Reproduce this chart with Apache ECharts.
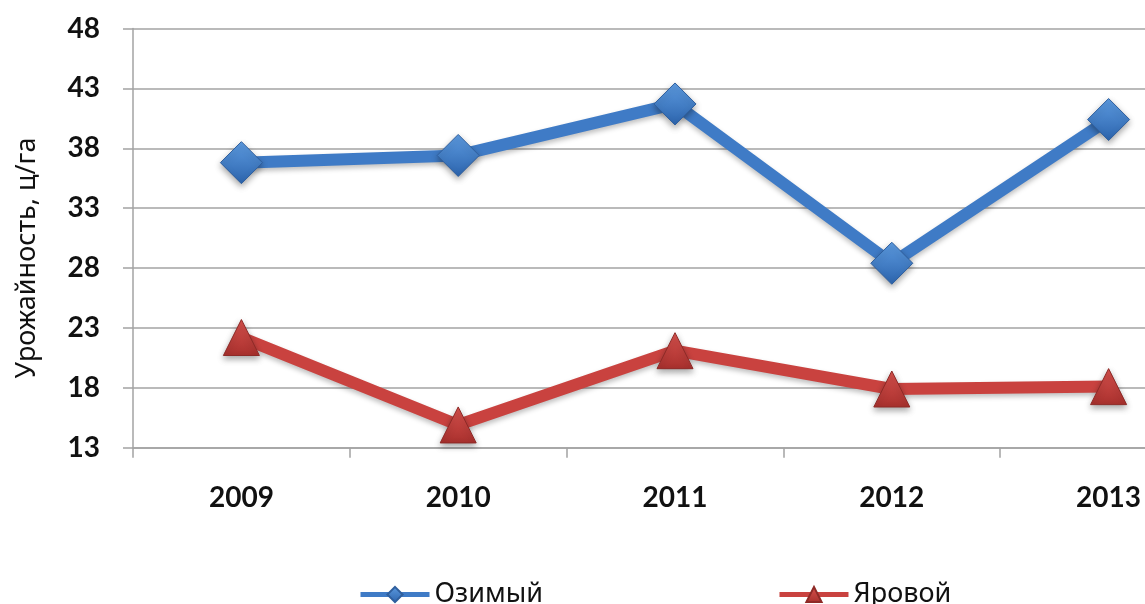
<!DOCTYPE html>
<html>
<head>
<meta charset="utf-8">
<script src="https://cdn.jsdelivr.net/npm/echarts@6/dist/echarts.min.js"></script>
<style>
  html, body { margin: 0; padding: 0; background: #fff; }
  #chart { width: 1145px; height: 604px; }
</style>
</head>
<body>
<div id="chart"></div>
<script>
// Урожайность по годам, ц/га
const years = ['2009', '2010', '2011', '2012', '2013'];
const ozimyi = [36.8, 37.4, 41.7, 28.4, 40.4];
const yarovoi = [22.2, 14.9, 21.1, 17.9, 18.1];
const seriesNames = ['Озимый', 'Яровой'];
const yAxisTitle = 'Урожайность, ц/га';

const numFont = 'Lato, "Open Sans", sans-serif';
const textFont = '"Noto Sans", "Open Sans", sans-serif';
const gridColor = '#a3a3a3';

function grad(top, bottom) {
  return new echarts.graphic.LinearGradient(0, 0, 0, 1, [
    { offset: 0, color: top },
    { offset: 1, color: bottom }
  ]);
}

const chart = echarts.init(document.getElementById('chart'), null, { renderer: 'canvas' });

chart.setOption({
  animation: false,
  backgroundColor: '#ffffff',
  // plot area runs past the right edge of the canvas
  grid: {
    left: 133, top: 28.5, width: 1084, height: 419.2,
    containLabel: false, outerBoundsMode: 'none'
  },
  xAxis: {
    type: 'category',
    data: years,
    boundaryGap: true,
    axisLine: { lineStyle: { color: gridColor, width: 1.5 } },
    axisTick: { show: true, length: 10, lineStyle: { color: gridColor, width: 1.5 } },
    axisLabel: { margin: 36, color: '#111', fontFamily: numFont, fontWeight: 'bold', fontSize: 28 },
    splitLine: { show: false }
  },
  yAxis: {
    type: 'value',
    min: 13,
    max: 48,
    interval: 5,
    axisLine: { show: true, lineStyle: { color: gridColor, width: 1.5 } },
    axisTick: { show: true, length: 10, lineStyle: { color: gridColor, width: 1.5 } },
    axisLabel: { margin: 33, color: '#111', fontFamily: numFont, fontWeight: 'bold', fontSize: 28 },
    splitLine: { show: true, lineStyle: { color: gridColor, width: 1.5 } }
  },
  legend: {
    left: 353,
    top: 576,
    itemWidth: 69,
    itemHeight: 19,
    itemGap: 234,
    textStyle: { fontFamily: textFont, fontSize: 27, color: '#111' },
    lineStyle: { width: 5 },
    data: seriesNames
  },
  graphic: [{
    type: 'text',
    x: 27,
    y: 258,
    rotation: Math.PI / 2,
    style: {
      text: yAxisTitle,
      font: '27px "Noto Sans", "Open Sans", sans-serif',
      fill: '#111',
      align: 'center',
      verticalAlign: 'middle'
    }
  }],
  series: [
    {
      name: seriesNames[0],
      type: 'line',
      data: ozimyi,
      symbol: 'diamond',
      symbolSize: 42,
      z: 3,
      lineStyle: {
        color: '#3f7bc6', width: 12,
        shadowColor: 'rgba(0,0,0,0.25)', shadowBlur: 5, shadowOffsetY: 3
      },
      itemStyle: {
        color: grad('#5d9be0', '#2c64ad'),
        borderColor: '#2f5f9e', borderWidth: 1,
        shadowColor: 'rgba(0,0,0,0.35)', shadowBlur: 6, shadowOffsetY: 3
      }
    },
    {
      name: seriesNames[1],
      type: 'line',
      data: yarovoi,
      symbol: 'triangle',
      symbolSize: 36,
      z: 2,
      lineStyle: {
        color: '#c9423f', width: 12,
        shadowColor: 'rgba(0,0,0,0.25)', shadowBlur: 5, shadowOffsetY: 3
      },
      itemStyle: {
        color: grad('#d9524e', '#a8302d'),
        borderColor: '#8e2a27', borderWidth: 1,
        shadowColor: 'rgba(0,0,0,0.35)', shadowBlur: 6, shadowOffsetY: 3
      }
    }
  ]
});
</script>
</body>
</html>
